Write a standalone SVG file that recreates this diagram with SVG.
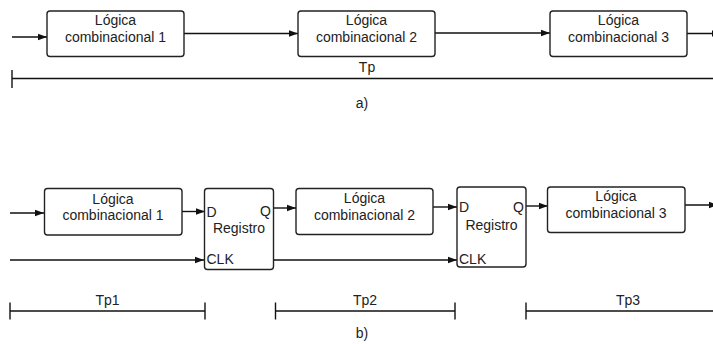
<svg xmlns="http://www.w3.org/2000/svg" width="713" height="344" viewBox="0 0 713 344">
<style>
.box{fill:#fff;stroke:#222;stroke-width:1.4}
.ln{fill:none;stroke:#111;stroke-width:1.4}
.t{font-family:"Liberation Sans",Arial,sans-serif;font-size:14px;fill:#222}
.c{text-anchor:middle}
</style>
<defs>
<marker id="ah" markerWidth="10" markerHeight="8" refX="9" refY="4" orient="auto" markerUnits="userSpaceOnUse">
<path d="M0,0.8 L9,4 L0,7.2 Z" fill="#111"/>
</marker>
</defs>
<rect width="713" height="344" fill="#fff"/>
<g id="connectors">
<line class="ln" x1="12" y1="37" x2="47" y2="37" marker-end="url(#ah)"/>
<line class="ln" x1="184" y1="33.5" x2="298" y2="33.5" marker-end="url(#ah)"/>
<line class="ln" x1="435" y1="33" x2="550" y2="33" marker-end="url(#ah)"/>
<line class="ln" x1="687" y1="33.5" x2="721" y2="33.5" marker-end="url(#ah)"/>
<line class="ln" x1="10" y1="213" x2="44" y2="213" marker-end="url(#ah)"/>
<line class="ln" x1="182" y1="211.5" x2="205" y2="211.5" marker-end="url(#ah)"/>
<line class="ln" x1="10" y1="260" x2="204" y2="260" marker-end="url(#ah)"/>
<line class="ln" x1="273" y1="208" x2="296" y2="208" marker-end="url(#ah)"/>
<line class="ln" x1="433" y1="207" x2="457" y2="207" marker-end="url(#ah)"/>
<line class="ln" x1="273" y1="260" x2="457" y2="260" marker-end="url(#ah)"/>
<line class="ln" x1="526" y1="206" x2="548" y2="206" marker-end="url(#ah)"/>
<line class="ln" x1="685" y1="205" x2="718" y2="205" marker-end="url(#ah)"/>
</g>
<g id="timing">
<line class="ln" x1="12" y1="78.5" x2="713" y2="78.5"/>
<line class="ln" x1="12" y1="70" x2="12" y2="88"/>
<text class="t c" x="367" y="71.5">Tp</text>
<text class="t c" x="362" y="107.5">a)</text>
<line class="ln" x1="10" y1="311" x2="205" y2="311"/>
<line class="ln" x1="10" y1="302.5" x2="10" y2="319.5"/>
<line class="ln" x1="205" y1="302.5" x2="205" y2="319.5"/>
<text class="t c" x="107.5" y="304.5">Tp1</text>
<line class="ln" x1="275.5" y1="311" x2="455" y2="311"/>
<line class="ln" x1="275.5" y1="302.5" x2="275.5" y2="319.5"/>
<line class="ln" x1="455" y1="302.5" x2="455" y2="319.5"/>
<text class="t c" x="365" y="304.5">Tp2</text>
<line class="ln" x1="526" y1="311" x2="713" y2="311"/>
<line class="ln" x1="526" y1="302.5" x2="526" y2="319.5"/>
<text class="t c" x="628" y="304.5">Tp3</text>
<text class="t c" x="362" y="338">b)</text>
</g>
<g id="a-logic1">
<rect class="box" x="47" y="11" width="137" height="45.5" rx="3"/>
<text class="t c" x="115.5" y="25">Lógica</text>
<text class="t c" x="115.5" y="41.5">combinacional 1</text>
</g>
<g id="a-logic2">
<rect class="box" x="298" y="11" width="137" height="45.5" rx="3"/>
<text class="t c" x="366.5" y="25">Lógica</text>
<text class="t c" x="366.5" y="41.5">combinacional 2</text>
</g>
<g id="a-logic3">
<rect class="box" x="550" y="11" width="137" height="45.5" rx="3"/>
<text class="t c" x="618.5" y="25">Lógica</text>
<text class="t c" x="618.5" y="41.5">combinacional 3</text>
</g>
<g id="b-logic1">
<rect class="box" x="44.5" y="188.5" width="137.5" height="46.5" rx="3"/>
<text class="t c" x="113" y="203.5">Lógica</text>
<text class="t c" x="113" y="220">combinacional 1</text>
</g>
<g id="b-reg1">
<rect class="box" x="204.5" y="188.5" width="69" height="81" rx="3"/>
<text class="t" x="206.5" y="216.5">D</text>
<text class="t" x="271" y="215.5" text-anchor="end">Q</text>
<text class="t c" x="239" y="233">Registro</text>
<text class="t" x="206.5" y="264">CLK</text>
</g>
<g id="b-logic2">
<rect class="box" x="296" y="188.5" width="137" height="46" rx="3"/>
<text class="t c" x="364.5" y="203">Lógica</text>
<text class="t c" x="364.5" y="219.5">combinacional 2</text>
</g>
<g id="b-reg2">
<rect class="box" x="457" y="187" width="69" height="80" rx="3"/>
<text class="t" x="459" y="212">D</text>
<text class="t" x="524" y="211.5" text-anchor="end">Q</text>
<text class="t c" x="491.5" y="230">Registro</text>
<text class="t" x="459" y="264">CLK</text>
</g>
<g id="b-logic3">
<rect class="box" x="547.5" y="187" width="137.5" height="45.5" rx="3"/>
<text class="t c" x="616" y="200.5">Lógica</text>
<text class="t c" x="616" y="217.5">combinacional 3</text>
</g>
</svg>
